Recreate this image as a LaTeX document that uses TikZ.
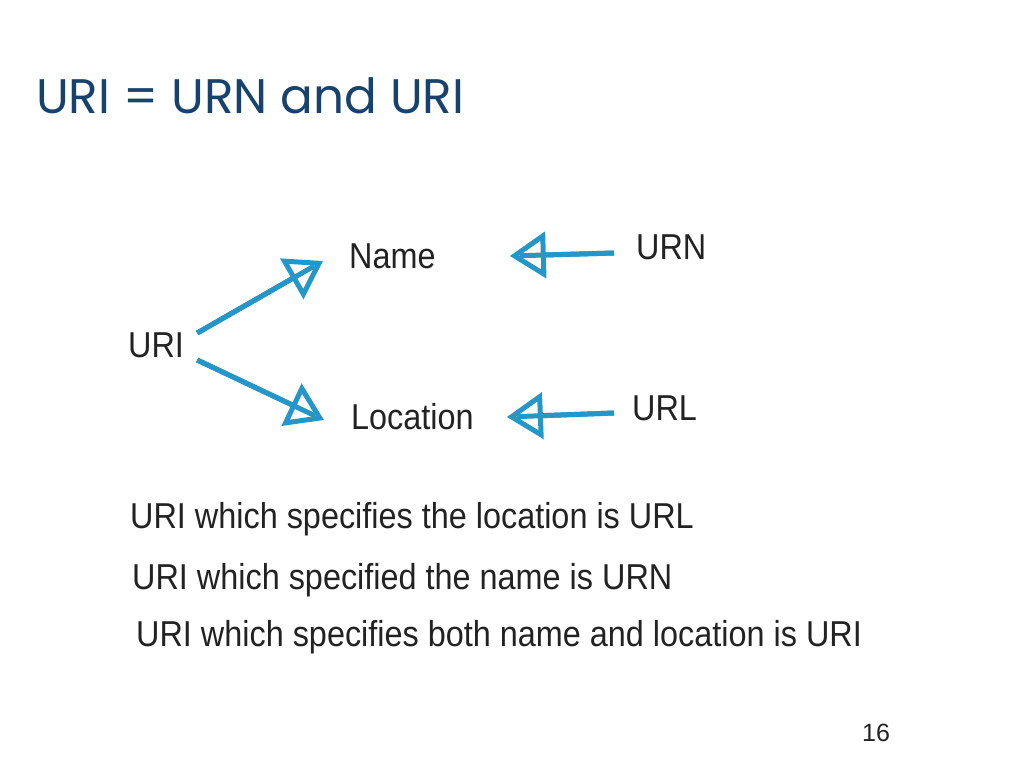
\documentclass[tikz,border=0pt]{standalone}
\usepackage{fontspec}
\setmainfont{Liberation Sans}
\newfontfamily\titlefont{Poppins}
\newfontfamily\bodyfont[FakeStretch=0.9]{Liberation Sans}
\usetikzlibrary{arrows.meta}
\definecolor{titleblue}{RGB}{24,66,110}
\definecolor{arrowblue}{RGB}{37,150,200}
\definecolor{ink}{RGB}{34,34,34}
\tikzset{
	word/.style={anchor=west,inner sep=0pt,text=ink,font=\bodyfont\fontsize{36}{40}\selectfont},
	line/.style={anchor=west,inner sep=0pt,text=ink,font=\bodyfont\fontsize{36}{40}\selectfont},
	link/.style={draw=arrowblue,line width=5pt,-{Triangle[open,length=36pt,width=46pt,line width=5pt]},
		postaction={draw=arrowblue,line width=5pt,-,shorten >=10pt}}
}

\begin{document}
\begin{tikzpicture}[x=1pt,y=-1pt]
	\useasboundingbox (0,0) rectangle (1024,768);

	\node [anchor=west,inner sep=0pt,text=titleblue,font=\titlefont\fontsize{48.5}{52}\selectfont] (title) at (36,96) {URI = URN and URI};

	\node [word] (uri) at (128,345) {URI};
	\node [word] (name) at (349,256) {Name};
	\node [word] (location) at (351,417) {Location};
	\node [word] (urn) at (636,247) {URN};
	\node [word] (url) at (632,408) {URL};

	\draw [link] ([shift={(13,-12)}]uri.east) -- ([shift={(-26,5)}]name.west);
	\draw [link] ([shift={(13,15)}]uri.east) -- ([shift={(-27,3)}]location.west);
	\draw [link] ([shift={(-22,6)}]urn.west) -- ([xshift=74]name.east);
	\draw [link] ([shift={(-18,5)}]url.west) -- ([xshift=33]location.east);

	\node [line] (l1) at (130,519) {URI which specifies the location is URL};
	\node [line] (l2) at (132,580) {URI which specified the name is URN};
	\node [line] (l3) at (136,637) {URI which specifies both name and location is URI};

	\node [inner sep=0pt,text=ink,font=\fontsize{25}{28}\selectfont] (page) at (876,733) {16};
\end{tikzpicture}
\end{document}
